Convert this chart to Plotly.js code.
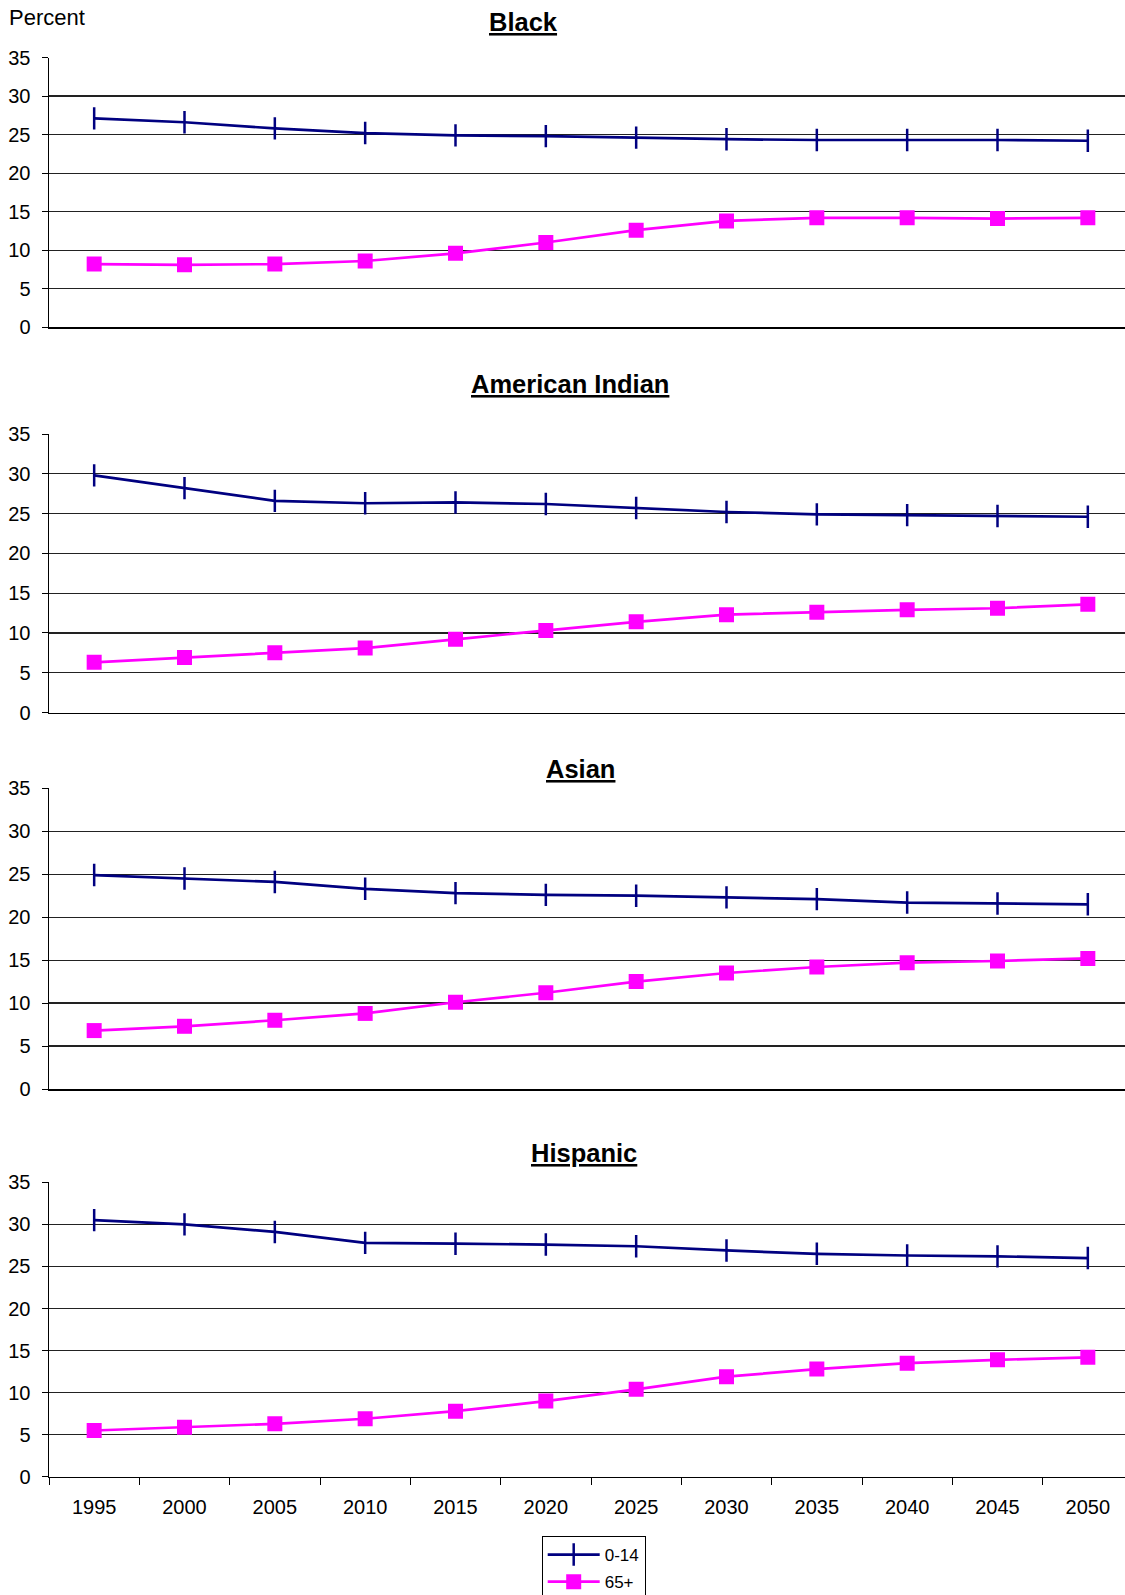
<!DOCTYPE html>
<html>
<head>
<meta charset="utf-8">
<script src="https://cdn.plot.ly/plotly-3.0.1.min.js"></script>
<style>
  html, body { margin: 0; padding: 0; overflow: hidden; background: #fff; }
  #chart { width: 1133px; height: 1595px; }
</style>
</head>
<body>
<div id="chart"></div>
<script>
// ---- Data ----
const years = ['1995','2000','2005','2010','2015','2020','2025','2030','2035','2040','2045','2050'];
const seriesNames = ['0-14', '65+'];
const panelTitles = ['Black', 'American Indian', 'Asian', 'Hispanic'];

const black_0_14 = [27.1, 26.6, 25.8, 25.2, 24.9, 24.8, 24.6, 24.4, 24.3, 24.3, 24.3, 24.2];
const black_65   = [8.2, 8.1, 8.2, 8.6, 9.6, 11.0, 12.6, 13.8, 14.2, 14.2, 14.1, 14.2];
const amind_0_14 = [29.8, 28.2, 26.6, 26.3, 26.4, 26.2, 25.7, 25.2, 24.9, 24.8, 24.7, 24.6];
const amind_65   = [6.3, 6.9, 7.5, 8.1, 9.2, 10.3, 11.4, 12.3, 12.6, 12.9, 13.1, 13.6];
const asian_0_14 = [24.9, 24.5, 24.1, 23.3, 22.8, 22.6, 22.5, 22.3, 22.1, 21.7, 21.6, 21.5];
const asian_65   = [6.8, 7.3, 8.0, 8.8, 10.1, 11.2, 12.5, 13.5, 14.2, 14.7, 14.9, 15.2];
const hisp_0_14  = [30.5, 30.0, 29.1, 27.8, 27.7, 27.6, 27.4, 26.9, 26.5, 26.3, 26.2, 26.0];
const hisp_65    = [5.5, 5.9, 6.3, 6.9, 7.8, 9.0, 10.4, 11.9, 12.8, 13.5, 13.9, 14.2];

const youngSeries = [black_0_14, amind_0_14, asian_0_14, hisp_0_14];
const oldSeries   = [black_65, amind_65, asian_65, hisp_65];

// ---- Layout geometry (pixels) ----
const H = 1595, W = 1133, ML = 49;
const PW = W - ML;
const panelPx = [[57.5, 327.3], [434, 712.5], [788.3, 1089], [1182.3, 1476.8]];
const titlePx = [[523, 22], [570, 384], [580, 768.5], [584, 1153]];
const FONT = 'Liberation Sans, Arial, sans-serif';
const NAVY = '#000080', MAGENTA = '#FF00FF';

const py = p => 1 - p / H;
const px = p => (p - ML) / PW;

const traces = [];
const layout = {
  width: W, height: H,
  margin: {l: ML, r: 0, t: 0, b: 0, autoexpand: false},
  paper_bgcolor: '#fff', plot_bgcolor: '#fff',
  font: {family: FONT, color: '#000', size: 20},
  showlegend: true,
  legend: {
    x: px(541.7), y: py(1536), xanchor: 'left', yanchor: 'top',
    bordercolor: '#000', borderwidth: 1, bgcolor: '#fff',
    font: {family: FONT, size: 17, color: '#000'},
    tracegroupgap: 2, itemwidth: 52, traceorder: 'grouped'
  },
  annotations: [],
};

for (let i = 0; i < 4; i++) {
  const n = i === 0 ? '' : String(i + 1);
  const xa = 'x' + n, ya = 'y' + n;
  traces.push({
    x: years, y: youngSeries[i], xaxis: xa, yaxis: ya,
    name: seriesNames[0], type: 'scatter', mode: 'lines+markers',
    legendgroup: 'g1',
    line: {color: NAVY, width: 2.7},
    marker: {symbol: 'line-ns', size: 16, line: {color: NAVY, width: 2.5}, color: NAVY},
    showlegend: i === 3
  });
  traces.push({
    x: years, y: oldSeries[i], xaxis: xa, yaxis: ya,
    name: seriesNames[1], type: 'scatter', mode: 'lines+markers',
    legendgroup: 'g2',
    line: {color: MAGENTA, width: 2.7},
    marker: {symbol: 'square', size: 15, color: MAGENTA, line: {width: 0}},
    showlegend: i === 3
  });
  const isBottom = i === 3;
  layout['xaxis' + n] = {
    type: 'category', anchor: ya, domain: [0, 1],
    range: [-0.5, 11.5], fixedrange: true,
    showline: true, linecolor: '#000', linewidth: 1.5,
    showgrid: false, zeroline: false,
    showticklabels: isBottom,
    ticks: isBottom ? 'outside' : '', tickson: 'boundaries',
    ticklen: 7, tickwidth: 1, tickcolor: '#000',
    ticklabelstandoff: 12,
    tickfont: {family: FONT, size: 20, color: '#000'}
  };
  layout['yaxis' + n] = {
    anchor: xa, domain: [py(panelPx[i][1]), py(panelPx[i][0])],
    range: [0, 35], tickvals: [0, 5, 10, 15, 20, 25, 30, 35],
    showline: true, linecolor: '#000', linewidth: 1.5,
    showgrid: true, gridcolor: '#222', gridwidth: 1.2,
    zeroline: false,
    ticks: 'outside', ticklen: 6, tickwidth: 1, tickcolor: '#000',
    ticklabelstandoff: 7,
    tickfont: {family: FONT, size: 20, color: '#000'}
  };
  layout.annotations.push({
    xref: 'paper', yref: 'paper', x: px(titlePx[i][0]), y: py(titlePx[i][1]),
    xanchor: 'center', yanchor: 'middle', showarrow: false,
    text: '<b><u>' + panelTitles[i] + '</u></b>',
    font: {family: FONT, size: 25.5, color: '#000'}
  });
}

layout.annotations.push({
  xref: 'paper', yref: 'paper', x: px(7), y: py(17),
  xanchor: 'left', yanchor: 'middle', showarrow: false,
  text: 'Percent', font: {family: FONT, size: 22, color: '#000'}
});

Plotly.newPlot('chart', traces, layout, {displayModeBar: false, staticPlot: true});
</script>
</body>
</html>
